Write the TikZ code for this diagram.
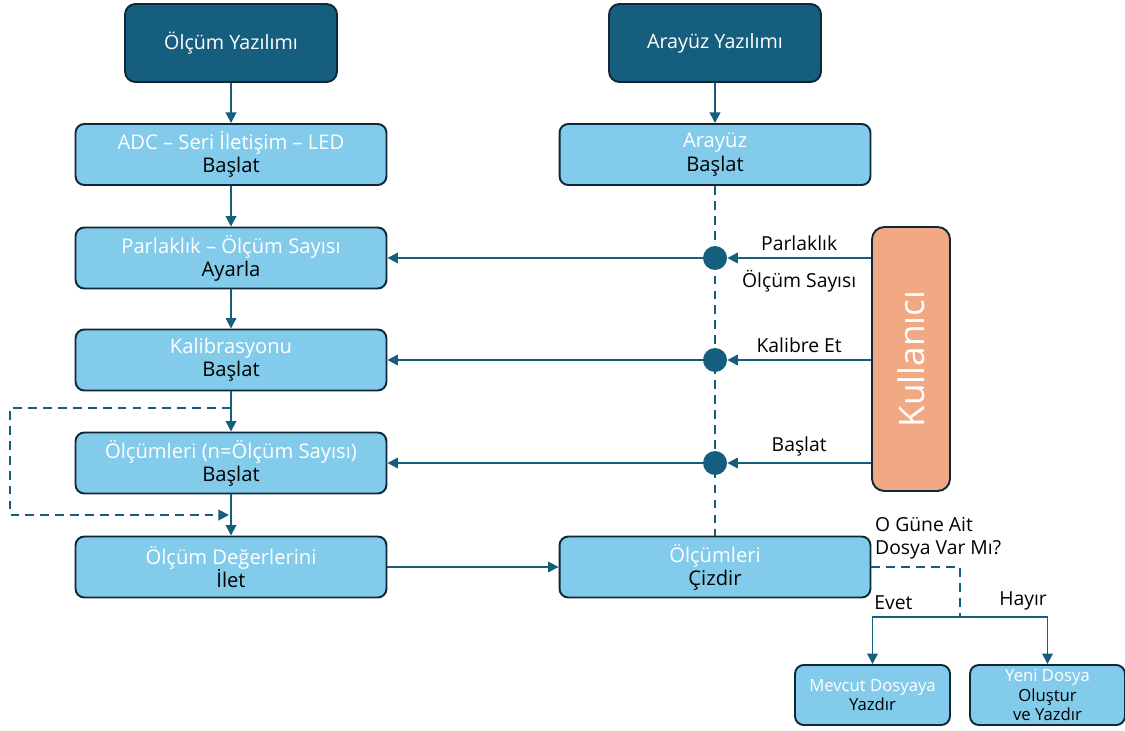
\documentclass[tikz,border=0pt]{standalone}
\usepackage{fontspec}
\setmainfont{Open Sans}
\usetikzlibrary{arrows.meta}

\definecolor{koyu}{RGB}{22,94,126}
\definecolor{acik}{RGB}{131,203,235}
\definecolor{kenar}{RGB}{14,40,56}
\definecolor{somon}{RGB}{241,169,131}

% first line of a step box is white, second one black
\newcommand{\ust}[1]{\textcolor{white}{#1}}

\tikzset{
  anakutu/.style={draw=kenar, fill=koyu, line width=1.1pt, rounded corners=6pt,
    minimum width=4.24cm, minimum height=1.56cm, text=white,
    font=\fontsize{11.2}{13}\selectfont},
  adimkutu/.style={draw=kenar, fill=acik, line width=1.1pt, rounded corners=5pt,
    minimum width=6.22cm, minimum height=1.22cm, align=center, inner sep=1pt,
    font=\fontsize{11.5}{13.2}\selectfont},
  kucukkutu/.style={adimkutu, minimum width=3.1cm, minimum height=1.2cm,
    font=\fontsize{9.5}{11.2}\selectfont},
  ok/.style={draw=koyu, line width=1.1pt, -{Triangle[length=6pt,width=6pt]}},
  kesik/.style={draw=koyu, line width=1.1pt, dash pattern=on 5pt off 3.5pt},
  nokta/.style={circle, fill=koyu, inner sep=0pt, minimum size=0.48cm},
  etiket/.style={font=\fontsize{11}{13}\selectfont},
}

\begin{document}
\begin{tikzpicture}[x=0.02cm, y=-0.02cm]
  \useasboundingbox (0,0) rectangle (1125,730);

  % two programs
  \node[anakutu] (olcyaz) at (231,43) {Ölçüm Yazılımı};
  \node[anakutu] (arayaz) at (715,43) {Arayüz Yazılımı};

  % measurement side
  \node[adimkutu] (adc)   at (231,154.5) {\ust{ADC – Seri İletişim – LED}\\Başlat};
  \node[adimkutu] (parl)  at (231,258)   {\ust{Parlaklık – Ölçüm Sayısı}\\Ayarla};
  \node[adimkutu] (kal)   at (231,360)   {\ust{Kalibrasyonu}\\Başlat};
  \node[adimkutu] (olcm)  at (231,463)   {\ust{Ölçümleri (n=Ölçüm Sayısı)}\\Başlat};
  \node[adimkutu] (deger) at (231,567)   {\ust{Ölçüm Değerlerini}\\İlet};

  % interface side
  \node[adimkutu] (arabas) at (715,154.5) {\ust{Arayüz}\\Başlat};
  \node[adimkutu] (ciz)    at (715,567)   {\ust{Ölçümleri}\\Çizdir};

  \node[draw=kenar, fill=somon, line width=1.1pt, rounded corners=7pt,
        minimum width=1.56cm, minimum height=5.28cm] (kull) at (911,359)
        {\rotatebox{90}{\textcolor{white}{\fontsize{20}{22}\selectfont Kullanıcı}}};

  \node[kucukkutu] (mevcut) at (872.5,695)  {\ust{Mevcut Dosyaya}\\Yazdır};
  \node[kucukkutu] (yeni)   at (1047.5,695) {\ust{Yeni Dosya}\\Oluştur\\ve Yazdır};

  % program flow
  \draw[ok] (olcyaz) -- (adc);
  \draw[ok] (arayaz) -- (arabas);
  \draw[ok] (adc) -- (parl);
  \draw[ok] (parl) -- (kal);
  \draw[ok] (kal) -- (olcm);
  \draw[ok] (olcm) -- (deger);
  \draw[ok] (deger) -- (ciz);

  % repeat loop
  \coordinate (dongu1) at (231,408);
  \coordinate (dongu2) at (229,515);
  \draw[kesik, -{Triangle[length=6pt,width=6pt]}] (dongu1) -- (10,408) -- (10,515) -- (dongu2);

  % user commands through the interface
  \draw[kesik] (arabas) -- (ciz);
  \node[nokta] (d1) at (715,258) {};
  \node[nokta] (d2) at (715,360) {};
  \node[nokta] (d3) at (715,463) {};

  \draw[ok] (kull.west |- d1) -- node[etiket, above] {Parlaklık}
                                 node[etiket, below, yshift=-3pt] {Ölçüm Sayısı} (d1);
  \draw[ok] (kull.west |- d2) -- node[etiket, above] {Kalibre Et} (d2);
  \draw[ok] (kull.west |- d3) -- node[etiket, above] {Başlat} (d3);
  \draw[ok] (d1) -- (parl);
  \draw[ok] (d2) -- (kal);
  \draw[ok] (d3) -- (olcm);

  % file check
  \node[etiket, anchor=west, align=left] (soru) at (869,538) {O Güne Ait\\Dosya Var Mı?};
  \coordinate (ayrim) at (960,617);
  \draw[kesik] (ciz.east) -| (ayrim);
  \draw[ok] (ayrim) -| node[etiket, above, pos=0.38] {Evet} (mevcut);
  \draw[ok] (ayrim) -| node[etiket, above, pos=0.36] {Hayır} (yeni);
\end{tikzpicture}
\end{document}
